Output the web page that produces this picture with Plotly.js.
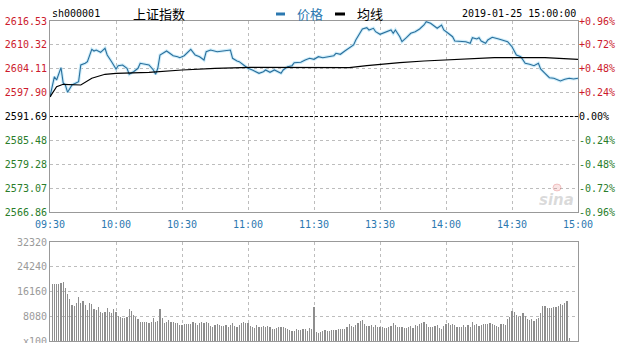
<!DOCTYPE html>
<html><head><meta charset="utf-8">
<script src="https://cdn.plot.ly/plotly-3.0.1.min.js"></script>
<style>html,body{margin:0;padding:0;background:#fff}#chart{width:622px;height:343px}</style>
</head><body><div id="chart"></div>
<script>
// ---- data ----
const prevClose = 2591.69;
const priceLevels = [2566.86, 2573.07, 2579.28, 2585.48, 2591.69, 2597.90, 2604.11, 2610.32, 2616.53];
const priceLabels = ['2566.86','2573.07','2579.28','2585.48','2591.69','2597.90','2604.11','2610.32','2616.53'];
const pctLabels = ['-0.96%','-0.72%','-0.48%','-0.24%','0.00%','+0.24%','+0.48%','+0.72%','+0.96%'];
const timeTicks = [0, 30, 60, 90, 120, 150, 180, 210, 240];
const timeLabels = ['09:30','10:00','10:30','11:00','11:30','13:30','14:00','14:30','15:00'];
const volTicks = [0, 8080, 16160, 24240, 32320];
const volLabels = ['x100','8080','16160','24240','32320'];

// minute index (0 = 09:30, 120 = 11:30/13:00, 240 = 15:00)
const priceT = [0,2,3,5,6,7,8,10,13,14,16,17,19,20,21,23,25,26,28,30,31,33,35,36,38,40,41,44,45,47,48,49,50,53,54,56,58,59,61,64,66,68,70,71,73,76,82,83,85,86,88,90,92,95,97,98,100,102,105,106,108,110,111,114,116,118,120,122,124,126,129,130,132,134,136,138,139,141,142,144,145,147,148,150,151,153,155,156,157,159,160,162,164,166,168,170,171,173,175,176,178,179,181,183,184,186,189,191,192,194,195,196,198,199,201,204,206,208,210,211,212,214,216,218,220,222,223,225,227,229,232,234,236,238,240];
const priceV = [2596.85,2602.05,2601.19,2604.39,2600.41,2599.89,2597.99,2599.89,2600.75,2605.09,2605.53,2605.95,2609.17,2608.73,2608.99,2608.39,2609.43,2607.69,2605.95,2604.05,2604.91,2605.09,2604.23,2602.67,2603.35,2604.23,2605.53,2605.27,2605.09,2603.79,2602.67,2604.23,2607.69,2608.73,2608.39,2607.51,2607.25,2606.99,2607.51,2609.17,2607.69,2607.25,2606.39,2608.55,2608.99,2608.55,2608.99,2606.83,2606.13,2605.95,2605.09,2604.23,2603.79,2602.93,2603.35,2603.79,2603.19,2603.79,2602.93,2603.79,2604.65,2604.91,2605.69,2605.79,2606.39,2606.83,2606.57,2607.25,2606.99,2607.25,2607.51,2608.13,2607.87,2608.73,2609.43,2610.29,2611.59,2613.33,2614.45,2614.79,2614.19,2614.63,2613.75,2613.07,2613.33,2613.75,2614.19,2613.33,2614.19,2612.45,2611.15,2612.19,2613.33,2613.75,2614.45,2615.49,2616.35,2615.93,2615.05,2614.63,2615.49,2614.19,2613.33,2612.45,2611.33,2611.33,2611.15,2610.73,2612.19,2611.85,2612.19,2611.33,2610.73,2611.59,2612.29,2611.85,2611.59,2611.15,2609.85,2608.55,2607.69,2607.25,2605.53,2605.27,2604.91,2605.53,2604.05,2602.93,2601.79,2601.63,2600.93,2601.37,2601.63,2601.45,2601.63];

const avgT = [0,3,6,14,19,25,30,45,60,75,91,114,136,144,150,159,170,180,202,225,240];
const avgV = [2596.77,2599.45,2600.07,2599.89,2601.63,2602.67,2602.93,2603.19,2603.79,2604.23,2604.49,2604.44,2604.39,2604.91,2605.27,2605.69,2606.13,2606.39,2606.99,2606.99,2606.57];

// volume per minute (x100 shares), index 0..240
const volume = [0,
18600,18600,18600,18700,18900,19370,
17200,15350,13600,11750,11430,12300,14260,12520,13060,11750,10120,12520,11970,10340,
10120,11210,9580,9250,9580,10670,9580,9030,10340,9580,
8160,7950,7400,7400,7950,10340,9800,8490,7950,7070,
6310,6310,6100,6310,5770,6310,7400,6310,6530,10340,
7400,5990,6310,6860,6310,6310,5770,5770,5220,5220,
5440,5550,5550,5440,6310,5770,5220,5990,6100,5990,
6310,5770,4900,4680,5220,5550,5220,4900,4900,5220,
4460,5220,5990,4900,4680,5220,5770,6310,5990,5770,
4900,4460,4140,5220,4680,4460,4900,4460,4900,4680,
3810,3810,4140,4460,4680,4460,4140,3810,3590,3370,
3370,3810,3590,3590,3810,4030,3370,4140,3810,10990,
3050,2720,3050,3370,3590,3370,3270,3590,3590,3590,
3810,3810,3920,3920,4680,5550,4900,4460,5220,5990,
6640,6860,5550,4900,4900,5220,4680,5220,4680,4460,
4460,4360,4360,4460,4900,5770,5220,4680,4460,4460,
4360,4360,4680,4900,4140,5220,4900,5550,5770,6100,
5440,4460,4460,4460,4900,5220,4140,3810,4900,5550,5770,
5220,5440,5220,4460,4460,4680,5110,4680,5220,4460,
6100,5220,5550,4900,5220,5440,5440,5550,5990,5440,
5220,4900,4680,5550,5440,5220,7180,7950,9900,9580,
8490,7950,8160,9030,8160,7070,6860,7070,6640,7180,
7400,9030,11430,11430,10880,10670,10880,10990,11210,11430,
12080,11640,12300,13170,1090,0,0,0,0];
const volT = volume.map((v, i) => i);

// ---- styling ----
const RED = '#cc1a2c', GREEN = '#2a7d2a', BLUE = '#2b78b0';
const MONO = 'DejaVu Sans Mono';
const colorFor = i => priceLevels[i] > prevClose ? RED : (priceLevels[i] < prevClose ? GREEN : '#000');
const leftText = priceLabels.map((t, i) => '<span style="color:' + colorFor(i) + '">' + t + '</span>');
const rightText = pctLabels.map((t, i) => '<span style="color:' + colorFor(i) + '">' + t + '</span>');

const traces = [
  {x: priceT, y: priceV, type: 'scatter', mode: 'lines', xaxis: 'x', yaxis: 'y',
   line: {color: 'rgba(185,230,248,0.7)', width: 3.2}, hoverinfo: 'skip', showlegend: false},
  {x: priceT, y: priceV, type: 'scatter', mode: 'lines', xaxis: 'x', yaxis: 'y', name: '价格',
   line: {color: '#2a6f9c', width: 1.1}, showlegend: false},
  {x: avgT, y: avgV, type: 'scatter', mode: 'lines', xaxis: 'x', yaxis: 'y', name: '均线',
   line: {color: '#000', width: 1.2}, showlegend: false},
  {x: avgT, y: avgV, type: 'scatter', mode: 'lines', xaxis: 'x', yaxis: 'y2',
   line: {color: 'rgba(0,0,0,0)', width: 0}, hoverinfo: 'skip', showlegend: false},
  {x: volT, y: volume, type: 'bar', xaxis: 'x2', yaxis: 'y3', width: 0.5,
   marker: {color: '#8e8e8e', line: {width: 0}}, showlegend: false}
];

const P = px => (px - 50) / 528;      // paper x from pixel
const Q = py => (341 - py) / 320;     // paper y from pixel

const gridStyle = {showgrid: true, gridcolor: '#bdbdbd', griddash: 'dot', gridwidth: 1, zeroline: false};
const layout = {
  width: 622, height: 343,
  margin: {l: 50, r: 44, t: 21, b: 2},
  paper_bgcolor: '#fff', plot_bgcolor: '#fff',
  bargap: 0,
  font: {family: MONO, size: 10, color: '#000'},
  xaxis: Object.assign({}, gridStyle, {domain: [0, 1], anchor: 'y', range: [0, 240],
    tickmode: 'array', tickvals: timeTicks, ticktext: timeLabels,
    tickfont: {family: MONO, size: 10, color: BLUE}, ticks: 'outside', ticklen: 3, tickcolor: 'rgba(0,0,0,0)',
    showline: true, linecolor: '#999', linewidth: 1, mirror: true}),
  yaxis: Object.assign({}, gridStyle, {domain: [Q(212), 1], anchor: 'x', range: [2566.86, 2616.53],
    tickmode: 'array', tickvals: priceLevels, ticktext: leftText,
    tickfont: {family: MONO, size: 10}, ticks: '', ticklabeloverflow: 'allow',
    showline: true, linecolor: '#999', linewidth: 1, mirror: true}),
  yaxis2: {overlaying: 'y', side: 'right', anchor: 'x', range: [2566.86, 2616.53],
    tickmode: 'array', tickvals: priceLevels, ticktext: rightText, ticklabeloverflow: 'allow',
    tickfont: {family: MONO, size: 10}, ticks: '', showgrid: false, zeroline: false, showline: false},
  xaxis2: Object.assign({}, gridStyle, {domain: [0, 1], anchor: 'y3', range: [0, 240],
    tickmode: 'array', tickvals: timeTicks, showticklabels: false, ticks: '',
    showline: true, linecolor: '#999', linewidth: 1, mirror: true}),
  yaxis3: Object.assign({}, gridStyle, {domain: [0, Q(242)], anchor: 'x2', range: [0, 32320],
    tickmode: 'array', tickvals: volTicks, ticktext: volLabels, ticklabeloverflow: 'allow',
    tickfont: {family: MONO, size: 10, color: '#9a9a9a'}, ticks: '',
    showline: true, linecolor: '#999', linewidth: 1, mirror: true}),
  shapes: [
    {type: 'line', xref: 'x', yref: 'y', x0: 0, x1: 240, y0: prevClose, y1: prevClose,
     line: {color: '#000', width: 1, dash: '3px,2px'}},
    {type: 'rect', xref: 'paper', yref: 'paper', x0: P(276), x1: P(285), y0: Q(15.5), y1: Q(12.5),
     fillcolor: '#2b78b0', line: {width: 0}},
    {type: 'rect', xref: 'paper', yref: 'paper', x0: P(335), x1: P(345), y0: Q(15.5), y1: Q(12.5),
     fillcolor: '#000', line: {width: 0}},
    // faint sina eye mark
    {type: 'circle', xref: 'paper', yref: 'paper', x0: P(553), x1: P(561), y0: Q(191), y1: Q(184),
     fillcolor: 'rgba(225,110,110,0.18)', line: {color: 'rgba(215,90,90,0.3)', width: 1}}
  ],
  annotations: [
    {xref: 'paper', yref: 'paper', x: P(50), y: Q(14), xanchor: 'left', yanchor: 'middle', showarrow: false,
     text: 'sh000001', font: {family: MONO, size: 10, color: '#000'}},
    {xref: 'paper', yref: 'paper', x: P(131), y: Q(13.5), xanchor: 'left', yanchor: 'middle', showarrow: false,
     text: '上证指数', font: {family: 'Noto Sans CJK SC', size: 13, color: '#000'}},
    {xref: 'paper', yref: 'paper', x: P(295), y: Q(13.5), xanchor: 'left', yanchor: 'middle', showarrow: false,
     text: '价格', font: {family: 'Noto Sans CJK SC', size: 13, color: '#2b78b0'}},
    {xref: 'paper', yref: 'paper', x: P(355), y: Q(13.5), xanchor: 'left', yanchor: 'middle', showarrow: false,
     text: '均线', font: {family: 'Noto Sans CJK SC', size: 13, color: '#000'}},
    {xref: 'paper', yref: 'paper', x: P(578), y: Q(14), xanchor: 'right', yanchor: 'middle', showarrow: false,
     text: '2019-01-25 15:00:00', font: {family: MONO, size: 10, color: '#000'}},
    {xref: 'paper', yref: 'paper', x: P(576), y: Q(200), xanchor: 'right', yanchor: 'middle', showarrow: false,
     text: '<b><i>sina</i></b>', font: {family: 'DejaVu Sans', size: 15, color: 'rgba(150,150,150,0.35)'}}
  ]
};

Plotly.newPlot('chart', traces, layout, {staticPlot: true, displayModeBar: false});
</script>
</body></html>
